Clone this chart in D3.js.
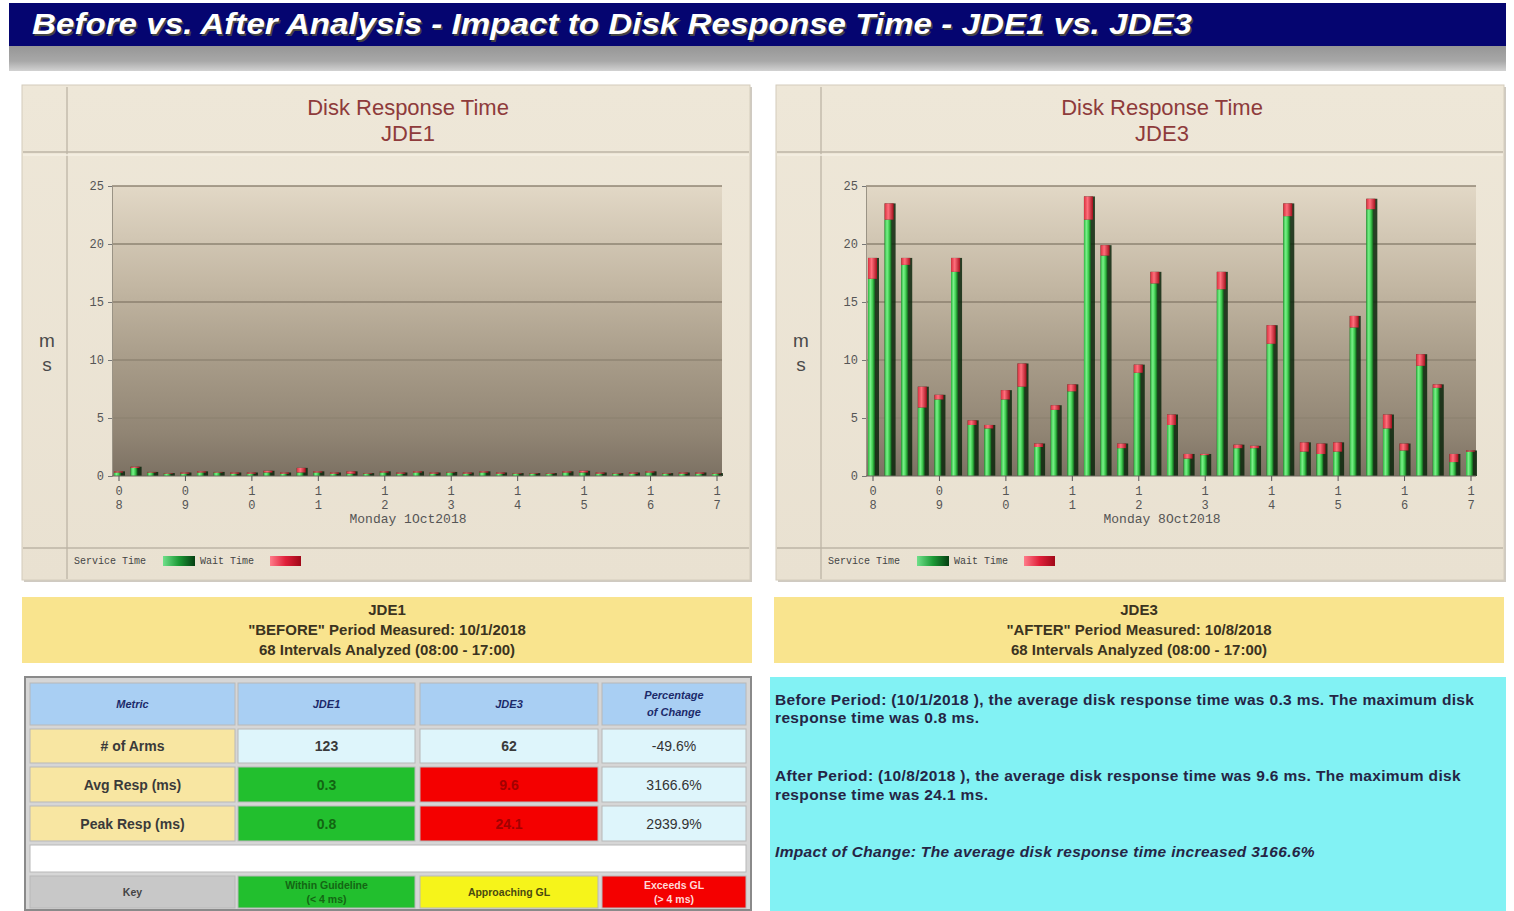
<!DOCTYPE html>
<html><head><meta charset="utf-8">
<script src="https://cdn.jsdelivr.net/npm/d3@7"></script>
<style>
html,body{margin:0;padding:0;background:#fff;}
svg{display:block;}
</style></head>
<body>
<script>
// ---------------- DATA ----------------
const times = ["08:00","08:15","08:30","08:45","09:00","09:15","09:30","09:45","10:00","10:15","10:30","10:45",
  "11:00","11:15","11:30","11:45","12:00","12:15","12:30","12:45","13:00","13:15","13:30","13:45",
  "14:00","14:15","14:30","14:45","15:00","15:15","15:30","15:45","16:00","16:15","16:30","16:45","17:00"];
const hourTicks = ["08","09","10","11","12","13","14","15","16","17"];
const yTicks = [0,5,10,15,20,25];
const jde1Service = [0.3,0.7,0.3,0.2,0.2,0.3,0.3,0.2,0.2,0.3,0.2,0.3,0.3,0.2,0.2,0.2,0.3,0.2,0.3,0.2,0.3,0.2,0.3,0.2,0.2,0.2,0.2,0.3,0.3,0.2,0.2,0.2,0.3,0.2,0.2,0.2,0.2];
const jde1Wait    = [0.1,0.1,0.05,0.05,0.1,0.1,0.05,0.1,0.1,0.15,0.1,0.4,0.1,0.1,0.2,0.05,0.1,0.1,0.1,0.1,0.05,0.1,0.1,0.1,0.05,0.05,0.05,0.1,0.15,0.1,0.05,0.1,0.1,0.05,0.1,0.1,0.05];
const jde3Service = [17.0,22.1,18.2,5.9,6.6,17.6,4.4,4.1,6.6,7.7,2.5,5.7,7.3,22.1,19.0,2.4,8.9,16.6,4.4,1.5,1.8,16.1,2.4,2.4,11.4,22.4,2.1,1.9,2.1,12.8,23.0,4.1,2.2,9.5,7.6,1.2,2.1];
const jde3Wait    = [1.8,1.4,0.6,1.8,0.4,1.2,0.4,0.3,0.8,2.0,0.3,0.4,0.6,2.0,0.9,0.4,0.7,1.0,0.9,0.4,0.1,1.5,0.3,0.2,1.6,1.1,0.8,0.9,0.8,1.0,0.9,1.2,0.6,1.0,0.3,0.7,0.1];

const pageTitle = "Before vs. After Analysis - Impact to Disk Response Time - JDE1 vs. JDE3";
const chartTitle = "Disk Response Time";
const systems = ["JDE1","JDE3"];
const dayLabels = ["Monday 1Oct2018","Monday 8Oct2018"];
const legendLabels = ["Service Time","Wait Time"];
const periodLines = [
  ["JDE1", "\"BEFORE\" Period Measured: 10/1/2018", "68 Intervals Analyzed (08:00 - 17:00)"],
  ["JDE3", "\"AFTER\" Period Measured: 10/8/2018", "68 Intervals Analyzed (08:00 - 17:00)"]
];
const tableHeader = ["Metric","JDE1","JDE3","Percentage\nof Change"];
const tableMetrics = ["# of Arms","Avg Resp (ms)","Peak Resp (ms)"];
const tableJde1 = ["123","0.3","0.8"];
const tableJde3 = ["62","9.6","24.1"];
const tableChange = ["-49.6%","3166.6%","2939.9%"];
const keyLabels = ["Key","Within Guideline\n(< 4 ms)","Approaching GL","Exceeds GL\n(> 4 ms)"];
const summaryLines = [
  ["Before Period: (10/1/2018 ), the average disk response time was 0.3 ms. The maximum disk","response time was 0.8 ms."],
  ["After Period: (10/8/2018 ), the average disk response time was 9.6 ms. The maximum disk","response time was 24.1 ms."],
  ["Impact of Change: The average disk response time increased 3166.6%"]
];

// ---------------- DRAW ----------------
const W = 1514, H = 911;
const svg = d3.select("body").append("svg").attr("width", W).attr("height", H);
const defs = svg.append("defs");

function lg(id, stops, vertical) {
  const g = defs.append("linearGradient").attr("id", id)
    .attr("x1", 0).attr("y1", 0).attr("x2", vertical ? 0 : 1).attr("y2", vertical ? 1 : 0);
  stops.forEach(s => g.append("stop").attr("offset", s[0]).attr("stop-color", s[1]));
}
lg("plotBg", [[0,"#e2d8c6"],[0.35,"#c2b6a2"],[0.6,"#a89c89"],[0.85,"#918574"],[1,"#7c7163"]], true);
lg("greenBar", [[0,"#2fb640"],[0.35,"#7af08a"],[0.65,"#3fce50"],[1,"#0f5a18"]], false);
lg("redBar", [[0,"#d8303e"],[0.4,"#ff6f7c"],[1,"#a8101e"]], false);
lg("greenSw", [[0,"#6fe08a"],[0.5,"#1c9a36"],[1,"#053f12"]], false);
lg("redSw", [[0,"#ff7c8a"],[0.5,"#e0203a"],[1,"#a00818"]], false);
lg("grayBand", [[0,"#969696"],[0.6,"#a8a8a8"],[1,"#d2d2d2"]], true);
lg("panelBg", [[0,"#eee7d8"],[1,"#e9e1d1"]], true);

// Title bar
svg.append("rect").attr("x", 9).attr("y", 3).attr("width", 1497).attr("height", 43).attr("fill", "#050570");
svg.append("rect").attr("x", 9).attr("y", 46).attr("width", 1497).attr("height", 25).attr("fill", "url(#grayBand)");
svg.append("text").attr("x", 32).attr("y", 34)
  .attr("font-family", "Liberation Sans, Arial, sans-serif").attr("font-weight", "bold").attr("font-style", "italic")
  .attr("font-size", 30).attr("fill", "#444").attr("textLength", 1160).attr("lengthAdjust", "spacingAndGlyphs")
  .attr("transform", "translate(1.5,1.5)").text(pageTitle);
svg.append("text").attr("x", 32).attr("y", 34)
  .attr("font-family", "Liberation Sans, Arial, sans-serif").attr("font-weight", "bold").attr("font-style", "italic")
  .attr("font-size", 30).attr("fill", "#ffffff").attr("textLength", 1160).attr("lengthAdjust", "spacingAndGlyphs")
  .text(pageTitle);

const mono = "Liberation Mono, Courier New, monospace";
const sans = "Liberation Sans, Arial, sans-serif";

function drawChart(px, sys, dayLabel, service, wait) {
  const pw = 728, top = 85, bottom = 580;
  const g = svg.append("g");
  g.append("rect").attr("x", px + 2).attr("y", top + 2).attr("width", pw).attr("height", bottom - top)
    .attr("fill", "#cfcac2");
  g.append("rect").attr("x", px).attr("y", top).attr("width", pw).attr("height", bottom - top)
    .attr("fill", "url(#panelBg)").attr("stroke", "#d4ccbc");
  g.append("line").attr("x1", px + 45).attr("x2", px + 45).attr("y1", top + 2).attr("y2", bottom - 1)
    .attr("stroke", "#b9b1a2").attr("stroke-width", 1.2);
  [152, 155, 548].forEach(y => g.append("line").attr("x1", px + 1).attr("x2", px + pw - 1)
    .attr("y1", y).attr("y2", y).attr("stroke", y === 155 ? "#f5efe3" : "#bdb5a6").attr("stroke-width", 1.5));
  const cx = px + 386;
  g.append("text").attr("x", cx).attr("y", 115).attr("text-anchor", "middle").attr("font-family", sans)
    .attr("font-size", 22).attr("fill", "#8e3b3b").text(chartTitle);
  g.append("text").attr("x", cx).attr("y", 141).attr("text-anchor", "middle").attr("font-family", sans)
    .attr("font-size", 22).attr("fill", "#8e3b3b").text(sys);
  g.append("text").attr("x", px + 25).attr("y", 347).attr("text-anchor", "middle").attr("font-family", sans)
    .attr("font-size", 19).attr("fill", "#4a4a4a").text("m");
  g.append("text").attr("x", px + 25).attr("y", 371).attr("text-anchor", "middle").attr("font-family", sans)
    .attr("font-size", 19).attr("fill", "#4a4a4a").text("s");

  const x0 = px + 90, x1 = px + 700;
  const y = d3.scaleLinear().domain([0, 25]).range([476, 186]);
  const x = d3.scalePoint().domain(times).range([x0 + 7, x1 - 5]);

  g.append("rect").attr("x", x0).attr("y", y(25)).attr("width", x1 - x0).attr("height", y(0) - y(25))
    .attr("fill", "url(#plotBg)");
  g.selectAll(".grid").data(yTicks.filter(t => t > 0)).enter().append("line")
    .attr("x1", x0).attr("x2", x1).attr("y1", d => y(d)).attr("y2", d => y(d))
    .attr("stroke", d => d >= 15 ? "#877c6b" : "#8e8372").attr("stroke-width", 1.6).attr("opacity", 0.9);
  const yAxis = d3.axisLeft(y).tickValues(yTicks).tickSize(4).tickPadding(4);
  const ya = g.append("g").attr("transform", `translate(${x0},0)`).call(yAxis);
  ya.select(".domain").attr("stroke", "#9a9385");
  ya.selectAll(".tick line").attr("stroke", "#777");
  ya.selectAll("text").attr("font-family", mono).attr("font-size", 12).attr("fill", "#555");

  const data = times.map((t, i) => ({ t, s: service[i], w: wait[i] }));
  const bw = 7;
  const bars = g.selectAll(".bar").data(data).enter().append("g");
  bars.append("rect").attr("x", d => x(d.t) - 5).attr("y", d => y(d.s + d.w))
    .attr("width", bw + 4).attr("height", d => y(0) - y(d.s + d.w)).attr("fill", "#0b260c").attr("opacity", 0.85);
  bars.append("rect").attr("x", d => x(d.t) - 5).attr("y", d => y(d.s))
    .attr("width", bw).attr("height", d => y(0) - y(d.s)).attr("fill", "url(#greenBar)");
  bars.append("rect").attr("x", d => x(d.t) - 5).attr("y", d => y(d.s + d.w))
    .attr("width", bw + 2).attr("height", d => y(d.s) - y(d.s + d.w)).attr("fill", "url(#redBar)");

  g.append("line").attr("x1", x0).attr("x2", x1).attr("y1", y(0)).attr("y2", y(0)).attr("stroke", "#6d675c");
  const hourIdx = times.map((t, i) => t.endsWith(":00") ? i : -1).filter(i => i >= 0);
  hourIdx.forEach((i, k) => {
    const xx = x(times[i]);
    g.append("line").attr("x1", xx).attr("x2", xx).attr("y1", y(0)).attr("y2", y(0) + 5).attr("stroke", "#555");
    const lab = hourTicks[k];
    g.append("text").attr("x", xx).attr("y", 495).attr("text-anchor", "middle").attr("font-family", mono)
      .attr("font-size", 12).attr("fill", "#555").text(lab[0]);
    g.append("text").attr("x", xx).attr("y", 509).attr("text-anchor", "middle").attr("font-family", mono)
      .attr("font-size", 12).attr("fill", "#555").text(lab[1]);
  });
  g.append("text").attr("x", px + 386).attr("y", 523).attr("text-anchor", "middle").attr("font-family", mono)
    .attr("font-size", 13).attr("fill", "#555").text(dayLabel);

  g.append("text").attr("x", px + 52).attr("y", 564).attr("font-family", mono).attr("font-size", 10)
    .attr("fill", "#444").text(legendLabels[0]);
  g.append("rect").attr("x", px + 141).attr("y", 556).attr("width", 32).attr("height", 10).attr("fill", "url(#greenSw)");
  g.append("text").attr("x", px + 178).attr("y", 564).attr("font-family", mono).attr("font-size", 10)
    .attr("fill", "#444").text(legendLabels[1]);
  g.append("rect").attr("x", px + 248).attr("y", 556).attr("width", 31).attr("height", 10).attr("fill", "url(#redSw)");
}
drawChart(22, systems[0], dayLabels[0], jde1Service, jde1Wait);
drawChart(776, systems[1], dayLabels[1], jde3Service, jde3Wait);

// Period boxes
[[22, 0], [774, 1]].forEach(([bx, k]) => {
  svg.append("rect").attr("x", bx).attr("y", 597).attr("width", 730).attr("height", 66).attr("fill", "#f9e48e");
  periodLines[k].forEach((ln, j) => svg.append("text").attr("x", bx + 365).attr("y", 615 + j * 20)
    .attr("text-anchor", "middle").attr("font-family", sans).attr("font-weight", "bold").attr("font-size", 15)
    .attr("fill", "#3b3320").text(ln));
});

// Table
const tb = svg.append("g");
tb.append("rect").attr("x", 25).attr("y", 677).attr("width", 726).attr("height", 233).attr("fill", "#d6d6d6")
  .attr("stroke", "#8a8a8a").attr("stroke-width", 2);
const cols = [[30, 205], [238, 177], [420, 178], [602, 144]];
const rowsY = [[683, 42], [729, 34], [767, 35], [806, 35], [845, 27], [876, 32]];
function cell(c, r, fill) {
  tb.append("rect").attr("x", cols[c][0]).attr("y", rowsY[r][0]).attr("width", cols[c][1]).attr("height", rowsY[r][1])
    .attr("fill", fill).attr("stroke", "#b8b8b8").attr("stroke-width", 1);
}
function ctext(c, r, txt, opts) {
  const lines = txt.split("\n");
  const cx = cols[c][0] + cols[c][1] / 2, cy = rowsY[r][0] + rowsY[r][1] / 2;
  const lh = opts.lh || opts.size * 1.25;
  lines.forEach((ln, i) => tb.append("text").attr("x", cx)
    .attr("y", cy + (i - (lines.length - 1) / 2) * lh + opts.size * 0.36)
    .attr("text-anchor", "middle").attr("font-family", sans).attr("font-size", opts.size)
    .attr("font-weight", opts.bold ? "bold" : "normal").attr("font-style", opts.italic ? "italic" : "normal")
    .attr("fill", opts.color).text(ln));
}
tableHeader.forEach((h, c) => { cell(c, 0, "#a9cff3"); ctext(c, 0, h, { size: 11, bold: true, italic: true, color: "#1c2a6a", lh: 17 }); });
tableMetrics.forEach((m, i) => {
  const r = i + 1;
  cell(0, r, "#f8e6a2"); ctext(0, r, m, { size: 14, bold: true, color: "#3a3a3a" });
  const g1 = i === 0 ? "#def5fb" : "#22bf2e", g3 = i === 0 ? "#def5fb" : "#f40000";
  cell(1, r, g1); ctext(1, r, tableJde1[i], { size: 14, bold: true, color: i === 0 ? "#3a3a3a" : "#126612" });
  cell(2, r, g3); ctext(2, r, tableJde3[i], { size: 14, bold: true, color: i === 0 ? "#3a3a3a" : "#a30000" });
  cell(3, r, "#def5fb"); ctext(3, r, tableChange[i], { size: 14, color: "#333" });
});
tb.append("rect").attr("x", 30).attr("y", rowsY[4][0]).attr("width", 716).attr("height", rowsY[4][1]).attr("fill", "#ffffff")
  .attr("stroke", "#b8b8b8");
const keyFill = ["#c8c8c8", "#22bf2e", "#f6f41a", "#f40000"];
const keyColor = ["#444", "#146614", "#4a4a10", "#ffd8d8"];
keyLabels.forEach((k, c) => { cell(c, 5, keyFill[c]); ctext(c, 5, k, { size: 10.5, bold: true, color: keyColor[c], lh: 14 }); });

// Summary box
svg.append("rect").attr("x", 770).attr("y", 677).attr("width", 736).attr("height", 234).attr("fill", "#82f2f4");
const sumY = [[700, 718], [776, 795], [852]];
summaryLines.forEach((par, p) => par.forEach((ln, j) => svg.append("text").attr("x", 775).attr("y", sumY[p][j] + 5)
  .attr("font-family", sans).attr("font-size", 15.5).attr("font-weight", "bold").attr("letter-spacing", 0.35)
  .attr("font-style", p === 2 ? "italic" : "normal").attr("fill", "#252545").text(ln)));
</script>
</body></html>
